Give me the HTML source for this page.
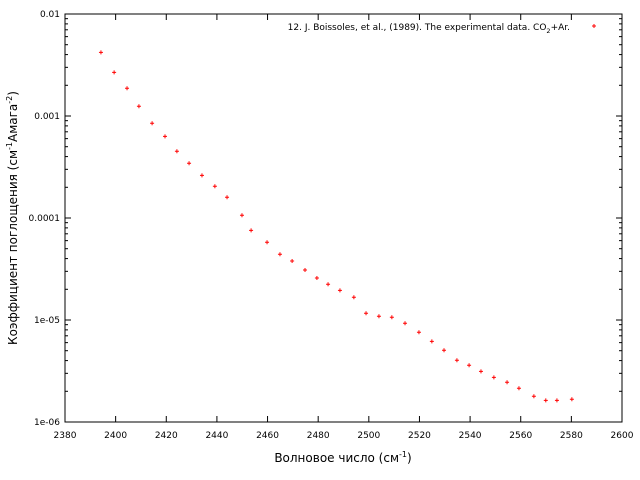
<!DOCTYPE html>
<html><head><meta charset="utf-8"><style>
body{margin:0;background:#fff}
svg{display:block;font-family:"DejaVu Sans","Liberation Sans",sans-serif}
</style></head><body>
<svg id="chart" width="640" height="480">
<g id="axes"></g>
<g id="pts"></g>
<text x="570" y="30" text-anchor="end" font-size="9">12. J. Boissoles, et al., (1989). The experimental data. CO<tspan font-size="6.5" dy="3">2</tspan><tspan dy="-3">+Ar.</tspan></text>
<text x="343" y="462" text-anchor="middle" font-size="12">Волновое число (см<tspan font-size="8" dy="-5">-1</tspan><tspan dy="5">)</tspan></text>
<text transform="translate(17,218) rotate(-90)" text-anchor="middle" font-size="12">Коэффициент поглощения (см<tspan font-size="8" dy="-5">-1</tspan><tspan dy="5">Амага</tspan><tspan font-size="8" dy="-5">-2</tspan><tspan dy="5">)</tspan></text>
</svg>
<script>
const wavenumbers=[2394.2,2399.4,2404.5,2409.2,2414.4,2419.5,2424.2,2429,2434.1,2439.2,2444,2449.9,2453.5,2459.8,2464.9,2469.7,2474.8,2479.5,2483.9,2488.6,2494.1,2498.9,2504,2509.1,2514.3,2519.8,2524.9,2529.7,2534.8,2539.6,2544.3,2549.4,2554.6,2559.3,2565.2,2569.9,2574.3,2580.2];
const absorption=[0.00421,0.00268,0.00187,0.001245,0.000848,0.000632,0.000451,0.000344,0.000262,0.000205,0.0001596,0.0001063,7.57e-5,5.78e-5,4.41e-5,3.79e-5,3.09e-5,2.58e-5,2.24e-5,1.95e-5,1.67e-5,1.164e-5,1.087e-5,1.063e-5,9.29e-6,7.58e-6,6.18e-6,5.05e-6,4.03e-6,3.6e-6,3.14e-6,2.74e-6,2.45e-6,2.14e-6,1.79e-6,1.63e-6,1.63e-6,1.67e-6];
const xTicks=[2380,2400,2420,2440,2460,2480,2500,2520,2540,2560,2580,2600];
const yTicks=[0.01,0.001,0.0001,0.00001,0.000001];
const yTickLabels=["0.01","0.001","0.0001","1e-05","1e-06"];
const L=65,R=622,T=14,B=422,X0=2380,X1=2600,YT=-2,YB=-6;
const sx=v=>L+(v-X0)/(X1-X0)*(R-L);
const sy=v=>T+(YT-Math.log10(v))/(YT-YB)*(B-T);
const NS="http://www.w3.org/2000/svg";
const ax=document.getElementById('axes'),pg=document.getElementById('pts');
function mk(tag,at,p){const e=document.createElementNS(NS,tag);for(const k in at)e.setAttribute(k,at[k]);p.appendChild(e);return e;}
const frame=mk('rect',{x:L,y:T,width:R-L,height:B-T,fill:'none',stroke:'#000','stroke-width':1},ax);


xTicks.forEach(v=>{const x=sx(v);
 mk('line',{x1:x,y1:B,x2:x,y2:B-6,stroke:'#000'},ax);
 mk('line',{x1:x,y1:T,x2:x,y2:T+6,stroke:'#000'},ax);
 const t=mk('text',{x:x,y:B+16,'text-anchor':'middle','font-size':9},ax);t.textContent=v;
 
 
});
yTicks.forEach((v,i)=>{const y=sy(v);
 mk('line',{x1:L,y1:y,x2:L+6,y2:y,stroke:'#000'},ax);
 mk('line',{x1:R,y1:y,x2:R-6,y2:y,stroke:'#000'},ax);
 const t=mk('text',{x:L-5,y:y+3,'text-anchor':'end','font-size':9},ax);t.textContent=yTickLabels[i];
 
 
 if(i<yTicks.length-1){for(let m=2;m<=9;m++){const yy=sy(yTicks[i+1]*m);
  mk('line',{x1:L,y1:yy,x2:L+3,y2:yy,stroke:'#000'},ax);
  mk('line',{x1:R,y1:yy,x2:R-3,y2:yy,stroke:'#000'},ax);}}
});
function plus(x,y,name){const p=mk('path',{d:`M${x-2},${y}H${x+2}M${x},${y-2}V${y+2}`,stroke:'#f00','stroke-width':1},pg);
 
 }
wavenumbers.forEach((w,i)=>plus(sx(w),sy(absorption[i]),'data-point'));
plus(594,26,'legend-marker');
</script>
</body></html>
